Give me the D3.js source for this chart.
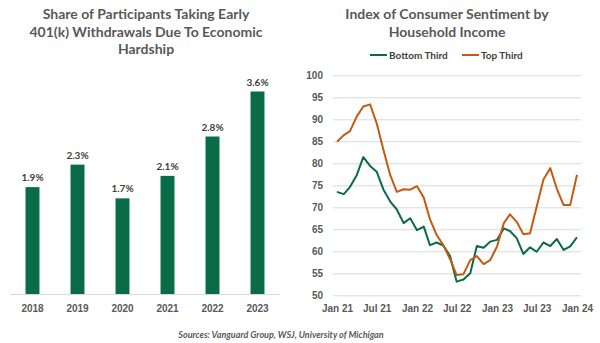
<!DOCTYPE html>
<html lang="en">
<head>
<meta charset="utf-8">
<title>401(k) hardship withdrawals and consumer sentiment</title>
<script src="https://cdn.jsdelivr.net/npm/d3@7"></script>
<style>
  body { margin: 0; background: #fff; }
  svg { font-family: Lato, "Open Sans", sans-serif; }
  .title { font-size: 14px; font-weight: bold; fill: #595959; text-anchor: middle; }
  .tick text { font-size: 10px; font-weight: bold; fill: #595959; }
  .lbl { font-size: 10px; font-weight: bold; fill: #404040; text-anchor: middle; }
  .legend text { font-size: 10px; font-weight: bold; fill: #404040; }
  .source { font-size: 9px; font-style: italic; font-weight: bold; fill: #595959; text-anchor: middle; }
</style>
</head>
<body>
<script>
// left chart data
var years = ["2018", "2019", "2020", "2021", "2022", "2023"];
var hardshipShare = [1.9, 2.3, 1.7, 2.1, 2.8, 3.6];

// right chart data, monthly Jan 21 .. Jan 24
var months = d3.timeMonth.range(new Date(2021, 0, 1), new Date(2024, 1, 1));
var bottomThird = [73.5, 73.0, 74.6, 77.3, 81.4, 79.4, 78.1, 74.0, 71.3, 69.5, 66.4, 67.5,
                   64.8, 65.6, 61.4, 62.0, 61.3, 58.9, 53.1, 53.6, 55.0, 61.2, 60.8, 62.2,
                   62.6, 65.2, 64.6, 63.0, 59.4, 60.9, 59.9, 62.0, 61.2, 62.8, 60.3, 61.1, 63.2];
var topThird = [84.9, 86.4, 87.3, 90.6, 92.9, 93.4, 89.1, 83.0, 77.3, 73.5, 74.1, 74.0,
                74.8, 72.2, 67.3, 63.7, 61.4, 58.2, 54.6, 54.8, 58.0, 58.9, 57.1, 58.0,
                61.1, 66.4, 68.4, 66.7, 63.9, 64.1, 70.1, 76.3, 78.9, 74.2, 70.5, 70.5, 77.4];
var sentimentTicks = [50, 55, 60, 65, 70, 75, 80, 85, 90, 95, 100];
var seriesNames = ["Bottom Third", "Top Third"];

var green = "#0A6B48";
var orange = "#C55A11";
var grid = "#D9D9D9";

var svg = d3.select("body").append("svg")
  .attr("width", 600)
  .attr("height", 343);

// ---- left: bar chart ----
var left = svg.append("g");

left.append("text").attr("class", "title")
  .selectAll("tspan")
  .data(["Share of Participants Taking Early", "401(k) Withdrawals Due To Economic", "Hardship"])
  .enter().append("tspan")
  .attr("x", 146)
  .attr("y", function(d, i) { return 19 + i * 17.5; })
  .text(function(d) { return d; });

var xb = d3.scaleBand().domain(years).range([10, 280])
  .paddingInner(0.69).paddingOuter(0.345);
var yb = d3.scaleLinear().domain([0, 4]).range([294, 69]);

left.selectAll("rect.bar")
  .data(hardshipShare).enter()
  .append("rect")
  .attr("class", "bar")
  .attr("x", function(d, i) { return xb(years[i]); })
  .attr("width", xb.bandwidth())
  .attr("y", function(d) { return yb(d); })
  .attr("height", function(d) { return yb(0) - yb(d); })
  .attr("fill", green);

left.selectAll("text.lbl")
  .data(hardshipShare).enter()
  .append("text")
  .attr("class", "lbl")
  .attr("x", function(d, i) { return xb(years[i]) + xb.bandwidth() / 2; })
  .attr("y", function(d) { return yb(d) - 6; })
  .text(function(d) { return d.toFixed(1) + "%"; });

var xbAxis = left.append("g")
  .attr("transform", "translate(0,294)")
  .call(d3.axisBottom(xb).tickSize(0).tickPadding(11));
xbAxis.select(".domain").attr("stroke", grid);

// ---- right: line chart ----
var right = svg.append("g");

right.append("text").attr("class", "title")
  .selectAll("tspan")
  .data(["Index of Consumer Sentiment by", "Household Income"])
  .enter().append("tspan")
  .attr("x", 447)
  .attr("y", function(d, i) { return 19 + i * 17.5; })
  .text(function(d) { return d; });

var xl = d3.scaleTime()
  .domain([new Date(2021, 0, 1), new Date(2024, 0, 1)])
  .range([337, 577]);
var yl = d3.scaleLinear().domain([50, 100]).range([295.3, 75.3]);

var yAxis = right.append("g")
  .attr("transform", "translate(333,0)")
  .call(d3.axisLeft(yl).tickValues(sentimentTicks).tickSize(-248).tickPadding(10));
yAxis.select(".domain").remove();
yAxis.selectAll(".tick line").attr("stroke", grid).attr("stroke-width", 1);

var xAxis = right.append("g")
  .attr("transform", "translate(0,295.3)")
  .call(d3.axisBottom(xl).ticks(d3.timeMonth.every(6)).tickFormat(d3.timeFormat("%b %y"))
    .tickSize(0).tickPadding(10));
xAxis.select(".domain").remove();

var line = d3.line()
  .x(function(d, i) { return xl(months[i]); })
  .y(function(d) { return yl(d); });

right.append("path").datum(bottomThird)
  .attr("d", line).attr("fill", "none")
  .attr("stroke", green).attr("stroke-width", 2).attr("stroke-linejoin", "round");
right.append("path").datum(topThird)
  .attr("d", line).attr("fill", "none")
  .attr("stroke", orange).attr("stroke-width", 2).attr("stroke-linejoin", "round");

var legend = right.append("g").attr("class", "legend");
var legendX = [370, 462];
[green, orange].forEach(function(c, i) {
  legend.append("line")
    .attr("x1", legendX[i]).attr("x2", legendX[i] + 17)
    .attr("y1", 55).attr("y2", 55)
    .attr("stroke", c).attr("stroke-width", 2);
  legend.append("text")
    .attr("x", legendX[i] + 19).attr("y", 58.5)
    .text(seriesNames[i]);
});

svg.append("text").attr("class", "source")
  .attr("x", 281).attr("y", 338)
  .text("Sources: Vanguard Group, WSJ, University of Michigan");
</script>
</body>
</html>
